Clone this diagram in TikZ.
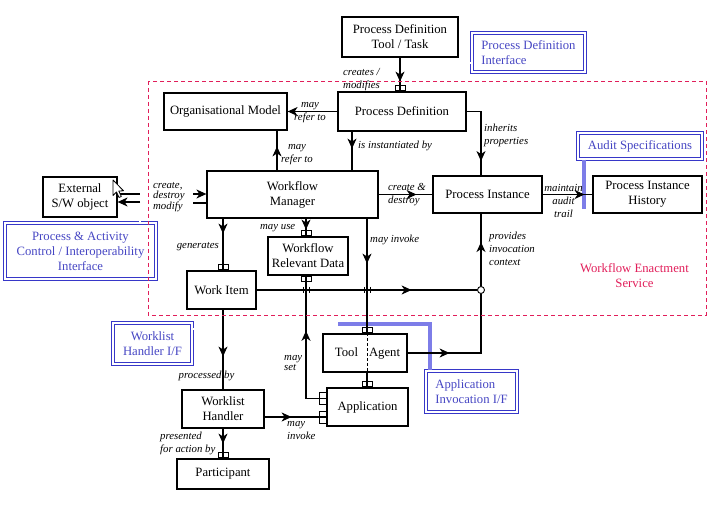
\documentclass[tikz,border=0pt]{standalone}
\usepackage{fontspec}
\setmainfont{Liberation Serif}
\usetikzlibrary{arrows.meta,decorations.markings,calc}
\definecolor{ifblue}{RGB}{55,55,200}
\definecolor{iftext}{RGB}{70,70,195}
\definecolor{bandblue}{RGB}{125,125,232}
\definecolor{wescol}{RGB}{225,30,90}
\newcommand{\nodefnt}{\fontsize{12.7}{15}\selectfont}
\newcommand{\lblfnt}{\fontsize{10.8}{13}\selectfont\itshape}
\newcommand{\lblfnttight}{\fontsize{10.8}{10.5}\selectfont\itshape}
\begin{document}
\begin{tikzpicture}[x=1pt,y=-1pt,
  sz/.style 2 args={minimum width=#1pt, minimum height=#2pt},
  box/.style={draw, line width=1.2pt, inner sep=0pt, align=center, font=\nodefnt},
  ifbox/.style={draw=ifblue, double=white, double distance=1.5pt, line width=1.2pt, inner sep=0pt, align=center, text=iftext, font=\nodefnt},
  port/.style={draw, line width=0.9pt, inner sep=0pt, minimum width=10pt, minimum height=5pt},
  lport/.style={draw, line width=0.9pt, inner sep=0pt, minimum width=7pt, minimum height=12pt},
  lbl/.style={font=\lblfnt, inner sep=0pt, align=left},
  tightlbl/.style={font=\lblfnttight, inner sep=0pt, align=left},
  conn/.style={line width=1.2pt},
  arr/.style={-{Stealth[length=10pt,width=9pt,inset=3pt]}},
  midarrow/.style={postaction={decorate}, decoration={markings, mark=at position #1 with {\arrow{Stealth[length=10pt,width=9pt,inset=3pt]}}}},
  ifdouble/.style={draw=ifblue, double=white, double distance=1.4pt, line width=0.7pt},
  band/.style={draw=bandblue, line width=4pt},
]
\useasboundingbox (0,0) rectangle (718,510);

% column coordinates
\coordinate (colwi) at (223,0);
\coordinate (colwrd) at (306,0);
\coordinate (colinv) at (367,0);
\coordinate (colpi) at (481,0);
\coordinate (colorg) at (277,0);
\coordinate (colpd) at (352,0);
\coordinate (colaif) at (430,0);

% boxes
\node[box, sz={116}{40}] (tool) at (400,37) {Process Definition\\Tool / Task};
\node[ifbox, sz={113}{39}, align=left] (pdi) at (528.5,52.5) {Process Definition\\Interface};
\node[box, sz={128}{39}] (pd) at (402,111.5) {Process Definition};
\node[box, sz={123}{37}] (org) at (225.5,111.5) {Organisational Model};
\node[box, sz={171}{47}] (wm) at (292.5,194.5) {Workflow\\Manager};
\node[box, sz={109}{37}] (pi) at (487.5,194.5) {Process Instance};
\node[box, sz={109}{37}] (pih) at (647.5,194.5) {Process Instance\\History};
\node[ifbox, sz={124}{26}] (audit) at (640,146) {Audit Specifications};
\node[box, sz={74}{40}] (ext) at (80,197) {External\\S/W object};
\node[ifbox, sz={151}{56}] (pac) at (80.5,251) {Process \& Activity\\Control / Interoperability\\Interface};
\node[box, sz={80}{38}] (wrd) at (308,256) {Workflow\\Relevant Data};
\node[box, sz={69}{38}] (wi) at (221.5,290) {Work Item};
\node[box, sz={84}{38}] (ta) at (365,353) {\hspace*{5pt}Tool\hspace{11pt}Agent};
\node[box, sz={81}{38}] (app) at (367.5,407) {Application};
\node[ifbox, sz={91}{41}, align=left] (aif) at (471.5,391.5) {Application\\Invocation I/F};
\node[ifbox, sz={79}{41}] (whif) at (152.5,343.5) {Worklist\\Handler I/F};
\node[box, sz={82}{38}] (wh) at (223,409) {Worklist\\Handler};
\node[box, sz={92}{30}] (part) at (223,474) {Participant};

% interface lines
\coordinate (pdiend) at (375,63);
\draw[ifdouble] (pdiend) -- (pdiend -| pdi.west);
\coordinate (whifend) at (242,329);
\draw[ifdouble] (whifend -| whif.east) -- (whifend);
\coordinate (pacend) at (140,182);
\draw[ifdouble] (pacend) -- (pacend |- pac.north);
\coordinate (auditend) at (584,209);
\draw[band] (auditend |- audit.south) -- (auditend);
\coordinate (aifend) at (338,324);
\draw[band] (aifend) -| (colaif |- aif.north);

% connectors
\draw[conn, midarrow=24pt] (tool.south) -- (tool.south |- pd.north);
\draw[conn, arr] (pd.west) -- (org.east);
\draw[conn, midarrow=24pt] (colorg |- wm.north) -- (colorg |- org.south);
\draw[conn, midarrow=17pt] (colpd |- pd.south) -- (colpd |- wm.north);
\draw[conn, midarrow=64pt] (pd.east) -| (colpi |- pi.north);
\draw[conn, midarrow=38pt] (wm.east) -- (pi.west);
\draw[conn, midarrow=42pt] (pi.east) -- (pih.west);
\draw[conn, midarrow=15pt] (colwi |- wm.south) -- (colwi |- wi.north);
\draw[conn, midarrow=11pt] (colwrd |- wm.south) -- (colwrd |- wrd.north);
\draw[conn, midarrow=45pt] (colinv |- wm.south) -- (colinv |- ta.north);
\draw[line width=0.8pt, dash pattern=on 3pt off 2pt] (colinv |- ta.north) -- (colinv |- ta.south);
\draw[conn] (colinv |- ta.south) -- (colinv |- app.north);
\node[circle, draw, fill=white, line width=0.9pt, minimum size=7pt, inner sep=0pt] (circ) at (481,290) {};
\draw[conn, midarrow=155pt] (wi.east) -- (circ.west);
\draw[conn, midarrow=44pt] (circ.north) -- (circ.north |- pi.south);
\draw[conn, midarrow=42pt] (ta.east) -| (circ.south);
\draw[conn, midarrow=88pt] ([yshift=-11pt]app.north west) -| (colwrd |- wrd.south);
\draw[conn, midarrow=27pt] ([yshift=-8pt]wh.east) -- ([yshift=-8pt]wh.east -| app.west);
\draw[conn, midarrow=47pt] (colwi |- wi.south) -- (colwi |- wh.north);
\draw[conn, midarrow=15pt] (wh.south) -- (part.north);

% crossing ticks
\draw[line width=0.8pt] (303,287) -- (303,293) (309,287) -- (309,293);
\draw[line width=0.8pt] (364,287) -- (364,293) (370,287) -- (370,293);

% external object links
\draw[conn] ([yshift=3pt]ext.east) -- ([yshift=3pt]ext.east -| pacend);
\draw[conn, arr] ([yshift=-5pt]ext.east -| pacend) -- ([yshift=-5pt]ext.east);
\coordinate (cmA) at (193,194);
\coordinate (cmB) at (193,203);
\draw[conn, arr] (cmA) -- (cmA -| wm.west);
\draw[conn] (cmB) -- (cmB -| wm.west);

% mouse cursor
\draw[fill=white, line width=0.8pt, line join=round, shift={(113,180)}]
  (0,0) -- (0,15.5) -- (3.5,12) -- (6,17.5) -- (8.3,16.5) -- (5.8,11) -- (10.5,10.8) -- cycle;

% ports
\node[port, anchor=south] (p1) at (tool.south |- pd.north) {};
\node[port, anchor=south] (p2) at (colwi |- wi.north) {};
\node[port, anchor=south] (p3) at (colwrd |- wrd.north) {};
\node[port, anchor=north] (p4) at (colwrd |- wrd.south) {};
\node[port, anchor=south] (p5) at (colinv |- ta.north) {};
\node[port, anchor=south] (p6) at (colinv |- app.north) {};
\node[port, anchor=south] (p7) at (wh.south |- part.north) {};
\node[lport, anchor=east] (p8) at ([yshift=-11pt]app.north west) {};
\node[lport, anchor=east] (p9) at ([yshift=-8pt]wh.east -| app.west) {};

% enactment service boundary
\draw[wescol, line width=0.9pt, dash pattern=on 4pt off 3pt] (148,81) rectangle (706,315);

% labels
\node[lbl, anchor=west] (l1) at (343,79.5) {creates /\\modifies};
\node[lbl, align=center] (l2) at (310,113) {may\\refer to};
\node[lbl, align=center] (l3) at (297,154.5) {may\\refer to};
\node[lbl, anchor=west] (l4) at (358,146) {is instantiated by};
\node[lbl, anchor=west] (l5) at (484,135.5) {inherits\\properties};
\node[lbl, anchor=west] (l6) at (388,195) {create \&\\destroy};
\node[lbl, align=center] (l7) at (563.5,201) {maintain\\audit\\trail};
\node[lbl, anchor=west] (l8) at (489,249) {provides\\invocation\\context};
\node[tightlbl, anchor=west] (l9) at (153,197) {create,\\destroy\\modify};
\node[lbl, anchor=east] (l10) at (219,247) {generates};
\node[lbl, anchor=west] (l11) at (260,228) {may use};
\node[lbl, anchor=west] (l12) at (370,240) {may invoke};
\node[tightlbl, anchor=west] (l13) at (284,363) {may\\set};
\node[lbl] (l14) at (206.5,376) {processed by};
\node[lbl, anchor=west] (l15) at (287,431) {may\\invoke};
\node[lbl, anchor=west] (l16) at (160,443.5) {presented\\for action by};
\node[text=wescol, font=\nodefnt, align=center, inner sep=0pt] (wes) at (634.5,275.5) {Workflow Enactment\\Service};
\end{tikzpicture}
\end{document}
